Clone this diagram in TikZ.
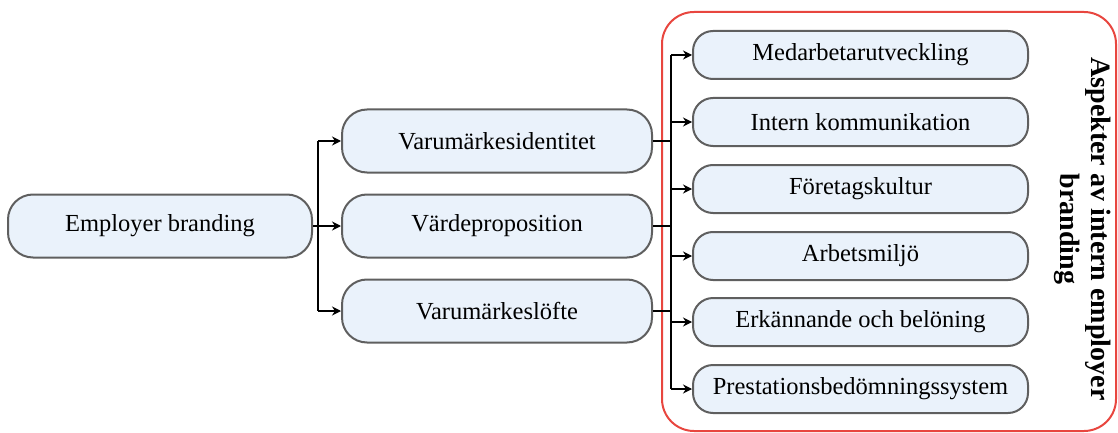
\documentclass[tikz,border=0pt]{standalone}
\usepackage{fontspec}
\setmainfont{Liberation Serif}
\usepackage{xcolor}
\usetikzlibrary{arrows.meta,positioning,calc}
\definecolor{edge}{HTML}{5F5F5F}
\definecolor{paleblue}{HTML}{EAF2FB}
\definecolor{frame}{HTML}{E8463F}
\tikzset{
  box/.style={rectangle, rounded corners=25pt, draw=edge, fill=paleblue, line width=2pt,
              align=center, inner sep=0pt, font=\fontsize{24.5}{28}\selectfont},
  rootbox/.style={box, minimum width=304pt, minimum height=63pt},
  midbox/.style={box, minimum width=310pt, minimum height=63pt},
  aspbox/.style={box, rounded corners=20pt, minimum width=335pt, minimum height=48pt},
  flow/.style={-{Stealth[length=9pt,width=9pt]}, draw=black, line width=2.2pt},
  link/.style={draw=black, line width=2.2pt},
}
\begin{document}
\begin{tikzpicture}[x=1pt,y=-1pt]
\useasboundingbox (0,0) rectangle (1118,433);
% red frame round the aspects
\draw[frame, line width=2pt, rounded corners=32pt] (662,12) rectangle (1116,431);
\node[rootbox] (eb)  at (160,226) {Employer branding};
\node[midbox]  (vid) at (497,141) {Varumärkesidentitet};
\node[midbox]  (vp)  at (497,226) {Värdeproposition};
\node[midbox]  (vl)  at (497,311) {Varumärkeslöfte};
\node[aspbox]  (a1)  at (860.5,55)  {Medarbetarutveckling};
\node[aspbox]  (a2)  at (860.5,122) {Intern kommunikation};
\node[aspbox]  (a3)  at (860.5,189) {Företagskultur};
\node[aspbox]  (a4)  at (860.5,256) {Arbetsmiljö};
\node[aspbox]  (a5)  at (860.5,322) {Erkännande och belöning};
\node[aspbox]  (a6)  at (860.5,389) {Prestationsbedömningssystem};
\node[rotate=-90, align=center, font=\fontsize{28}{31}\selectfont\bfseries] (ttl) at (1083,229)
  {Aspekter av intern employer\\branding};
% left split
\coordinate (s1) at (318,226);
\draw[link] (eb.east) -- (s1);
\draw[link] (s1 |- vid.west) -- (s1 |- vl.west);
\foreach \m in {vid,vp,vl} \draw[flow] (s1 |- \m.west) -- (\m.west);
% right split
\coordinate (s2) at (671,226);
\draw[link] (s2 |- a1.west) -- (s2 |- a6.west);
\foreach \m in {vid,vp,vl} \draw[link] (\m.east) -- (s2 |- \m.east);
\foreach \a in {a1,a2,a3,a4,a5,a6} \draw[flow] (s2 |- \a.west) -- (\a.west);
\end{tikzpicture}
\end{document}
